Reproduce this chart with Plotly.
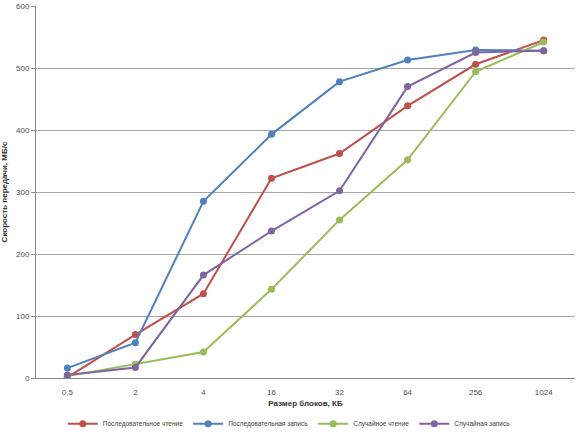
import plotly.graph_objects as go

# block sizes, KB (category axis)
block_sizes = ["0,5", "2", "4", "16", "32", "64", "256", "1024"]

seq_read = [1, 70, 136, 322, 362, 439, 506, 545]
seq_write = [16, 57, 285, 393, 478, 513, 529, 528]
rand_read = [3, 22, 42, 143, 255, 352, 494, 542]
rand_write = [5, 17, 166, 237, 302, 470, 525, 528]

series = [
    ("Последовательное чтение", seq_read, "#C0504D"),
    ("Последовательная запись", seq_write, "#4F81BD"),
    ("Случайное чтение", rand_read, "#9BBB59"),
    ("Случайная запись", rand_write, "#8064A2"),
]

fig = go.Figure()
for name, vals, color in series:
    fig.add_trace(go.Scatter(
        x=block_sizes, y=vals, name=name, mode="lines+markers",
        line=dict(color=color, width=2),
        marker=dict(color=color, size=7),
    ))

font = dict(family="Liberation Sans, DejaVu Sans, sans-serif", size=8, color="#404040")

fig.update_layout(
    width=585, height=436,
    margin=dict(l=36, r=10, t=6, b=58),
    paper_bgcolor="white", plot_bgcolor="white",
    font=font,
    showlegend=True,
    legend=dict(orientation="h", x=0.47, xanchor="center",
                yref="container", y=0.028, yanchor="middle",
                font=dict(size=6.5, color="#404040"), itemwidth=30, tracegroupgap=0,
                bgcolor="rgba(0,0,0,0)"),
    xaxis=dict(
        type="category", automargin=False,
        title=dict(text="<b>Размер блоков, КБ</b>", font=dict(size=8, color="#303030"), standoff=4),
        showline=True, linecolor="#888888", linewidth=1,
        showgrid=False, ticks="", ticklabelstandoff=6,
        tickfont=dict(size=8, color="#505050"),
    ),
    yaxis=dict(
        range=[0, 600], dtick=100, automargin=False,
        title=dict(text="<b>Скорость передачи, МБ/с</b>", font=dict(size=8, color="#303030"), standoff=12),
        showline=True, linecolor="#888888", linewidth=1,
        showgrid=True, gridcolor="#A6A6A6", gridwidth=1,
        ticks="outside", ticklen=4, tickcolor="#888888",
        tickfont=dict(size=8, color="#505050"), zeroline=False,
    ),
)

fig.write_html("out.html", config={"displayModeBar": False},
               post_script="document.body.style.margin='0';")
